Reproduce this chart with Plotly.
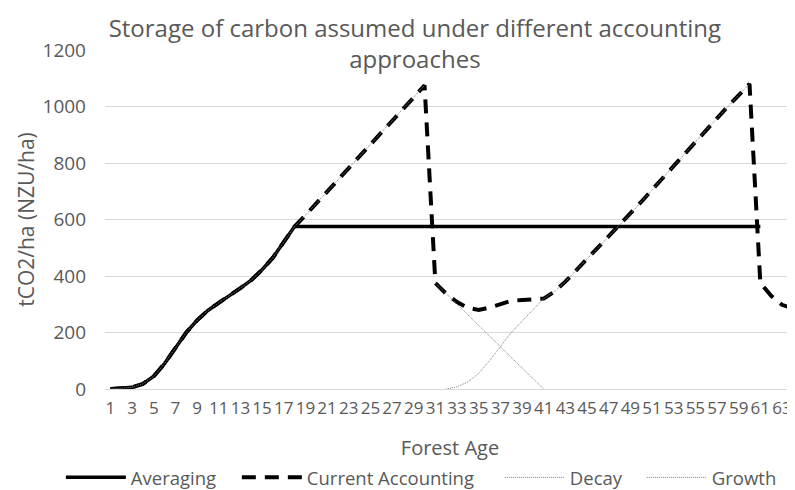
import plotly.graph_objects as go

ages = list(range(1, 65))

# Values (tCO2/ha)
base_growth = [0, 2, 6, 18, 45, 90, 145, 200, 243, 278, 305, 330, 357, 385, 422, 465, 518, 575,
               615, 655, 698, 740, 782, 823, 865, 907, 948, 990, 1032, 1075]  # ages 1-30

averaging = base_growth[:18] + [575] * 43 + [None] * 3  # ages 1-64

current = (base_growth +
           [375, 337, 308, 287, 280, 288, 300, 312, 315, 318, 320] +          # ages 31-41
           [345, 380, 420, 460, 500, 540, 578, 620, 662, 705, 748, 790, 832,
            875, 917, 958, 1000, 1040, 1080] +                                 # ages 42-60
           [375, 330, 298, 285])                                               # ages 61-64

decay = [None] * 30 + [375, 338, 300, 262, 225, 188, 150, 112, 75, 38, 0] + [None] * 23

growth = (base_growth + [None] +
          [0, 8, 25, 55, 100, 150, 200, 240, 280, 320] +                      # ages 32-41
          [345, 380, 420, 460, 500, 540, 578, 620, 662, 705, 748, 790, 832,
           875, 917, 958, 1000, 1040, 1080] +                                  # ages 42-60
          [None] * 4)

tick_ages = list(range(1, 64, 2))
y_ticks = [0, 200, 400, 600, 800, 1000, 1200]

FONT = "Open Sans"
GREY_TXT = "#595959"

fig = go.Figure()
fig.add_trace(go.Scatter(x=ages, y=averaging, name="Averaging", mode="lines",
                         line=dict(color="black", width=3.5), legendwidth=101))
fig.add_trace(go.Scatter(x=ages, y=current, name="Current Accounting", mode="lines",
                         line=dict(color="black", width=4, dash="14px,9px"), legendwidth=188))
fig.add_trace(go.Scatter(x=ages, y=decay, name="Decay", mode="lines",
                         line=dict(color="#7f7f7f", width=1, dash="1px,1px"), legendwidth=67))
fig.add_trace(go.Scatter(x=ages, y=growth, name="Growth", mode="lines",
                         line=dict(color="#7f7f7f", width=1, dash="1px,1px"), legendwidth=66))

fig.update_layout(
    width=787, height=482,
    margin=dict(l=97, r=0, t=42, b=101, autoexpand=False),
    paper_bgcolor="white", plot_bgcolor="white",
    font=dict(family=FONT, color=GREY_TXT),
    title=dict(text="Storage of carbon assumed under different accounting<br>approaches",
               x=0.517, xref="container", xanchor="center",
               y=0.94, yref="container", yanchor="top",
               font=dict(size=24, color=GREY_TXT, family=FONT)),
    showlegend=True,
    legend=dict(orientation="h", x=-0.064, xref="paper", xanchor="left",
                y=-0.262, yref="paper", yanchor="middle",
                font=dict(size=18.5, color=GREY_TXT), itemwidth=60,
                bgcolor="rgba(0,0,0,0)"),
)
fig.update_xaxes(range=[0.5, 64.2], tickmode="array", tickvals=tick_ages,
                 ticktext=[str(a) for a in tick_ages], tickangle=0,
                 showgrid=False, zeroline=False, showline=False, ticks="",
                 ticklabeloverflow="allow",
                 tickfont=dict(size=17, color=GREY_TXT), ticklabelstandoff=7,
                 title=dict(text="Forest Age", font=dict(size=20, color=GREY_TXT), standoff=22))
fig.update_yaxes(range=[0, 1200], tickmode="array", tickvals=y_ticks,
                 showgrid=True, gridcolor="#d9d9d9", gridwidth=1,
                 zeroline=True, zerolinecolor="#d9d9d9", zerolinewidth=1,
                 showline=False, ticks="",
                 tickfont=dict(size=19, color=GREY_TXT), ticklabelstandoff=18,
                 title=dict(text="tCO2/ha (NZU/ha)", font=dict(size=21, color=GREY_TXT), standoff=2))

fig.write_html("out.html")
